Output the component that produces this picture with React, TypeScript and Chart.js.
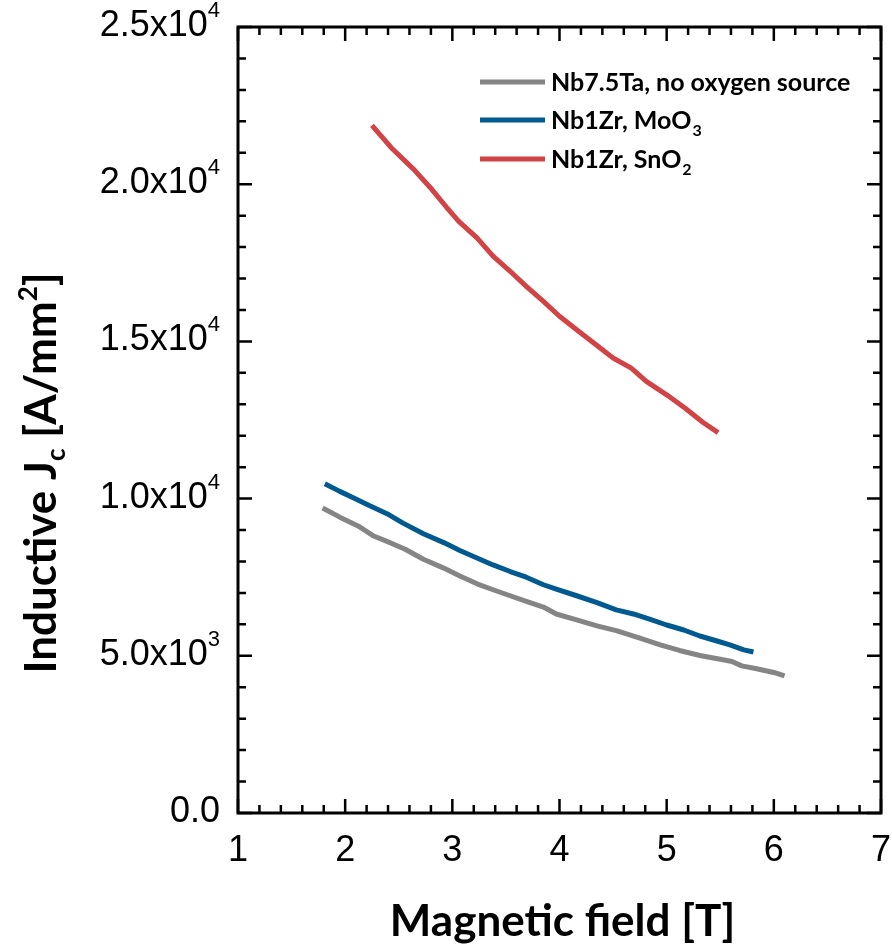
import React, { useEffect, useRef } from "react";
import { Chart, registerables } from "chart.js";

Chart.register(...registerables);

// ---------------- data ----------------
const fieldGray = [1.79, 1.95, 2.12, 2.26, 2.39, 2.56, 2.73, 2.92, 3.07, 3.23, 3.38, 3.54, 3.69, 3.85, 3.97, 4.16, 4.35, 4.53, 4.75, 4.94, 5.12, 5.31, 5.5, 5.61, 5.7, 5.84, 6.0, 6.1];
const jcGray = [9700, 9410, 9130, 8820, 8640, 8390, 8070, 7790, 7540, 7290, 7100, 6910, 6730, 6550, 6330, 6140, 5950, 5800, 5560, 5350, 5170, 5010, 4890, 4820, 4680, 4590, 4470, 4360];

const fieldBlue = [1.81, 1.95, 2.08, 2.23, 2.39, 2.54, 2.73, 2.92, 3.07, 3.23, 3.38, 3.54, 3.69, 3.85, 3.97, 4.16, 4.35, 4.53, 4.69, 4.84, 5.0, 5.16, 5.31, 5.47, 5.59, 5.72, 5.81];
const jcBlue = [10470, 10230, 10020, 9770, 9520, 9220, 8880, 8600, 8350, 8110, 7890, 7680, 7500, 7260, 7120, 6910, 6690, 6460, 6330, 6170, 5980, 5820, 5630, 5470, 5350, 5190, 5120];

const fieldRed = [2.25, 2.43, 2.64, 2.81, 2.95, 3.06, 3.23, 3.38, 3.54, 3.69, 3.85, 4.0, 4.16, 4.32, 4.5, 4.67, 4.81, 5.0, 5.17, 5.34, 5.48];
const jcRed = [21870, 21160, 20470, 19830, 19250, 18820, 18290, 17710, 17230, 16750, 16270, 15800, 15370, 14950, 14470, 14150, 13730, 13300, 12880, 12420, 12100];

const seriesNames = ["Nb7.5Ta, no oxygen source", "Nb1Zr, MoO", "Nb1Zr, SnO"];
const seriesSubs = ["", "3", "2"];
const seriesColors = ["#858585", "#005a8f", "#d24345"];

const xTickValues = [1, 2, 3, 4, 5, 6, 7];
const yTickValues = [0, 5000, 10000, 15000, 20000, 25000];
const yTickMantissa = ["0.0", "5.0x10", "1.0x10", "1.5x10", "2.0x10", "2.5x10"];
const yTickExponent = ["", "3", "4", "4", "4", "4"];

const xTitle = "Magnetic field [T]";
const yTitleParts = ["Inductive J", "c", " [A/mm", "2", "]"];

const X_MIN = 1, X_MAX = 7, X_MINOR = 0.2;
const Y_MIN = 0, Y_MAX = 25000, Y_MINOR = 1000;

const TICK_FONT = "'Liberation Sans', Arial, sans-serif";
const BOLD_FONT = "Lato, 'Open Sans', sans-serif";

const framePlugin = {
  id: "originFrame",
  afterDraw(chart: any) {
    const ctx: CanvasRenderingContext2D = chart.ctx;
    const { left, right, top, bottom } = chart.chartArea;
    const xs = chart.scales.x;
    const ys = chart.scales.y;
    ctx.save();
    ctx.strokeStyle = "#000";
    ctx.fillStyle = "#000";

    // ticks (inward, mirrored)
    ctx.lineWidth = 2.5;
    ctx.lineCap = "butt";
    const nx = Math.round((X_MAX - X_MIN) / X_MINOR);
    for (let i = 0; i <= nx; i++) {
      const v = X_MIN + i * X_MINOR;
      const px = xs.getPixelForValue(v);
      const len = i % 5 === 0 ? 14 : 8;
      ctx.beginPath();
      ctx.moveTo(px, bottom);
      ctx.lineTo(px, bottom - len);
      ctx.moveTo(px, top);
      ctx.lineTo(px, top + len);
      ctx.stroke();
    }
    const ny = Math.round((Y_MAX - Y_MIN) / Y_MINOR);
    for (let i = 0; i <= ny; i++) {
      const v = Y_MIN + i * Y_MINOR;
      const py = ys.getPixelForValue(v);
      const len = i % 5 === 0 ? 14 : 8;
      ctx.beginPath();
      ctx.moveTo(left, py);
      ctx.lineTo(left + len, py);
      ctx.moveTo(right, py);
      ctx.lineTo(right - len, py);
      ctx.stroke();
    }

    // frame
    ctx.lineWidth = 3;
    ctx.strokeRect(left, top, right - left, bottom - top);

    // x tick labels
    ctx.font = `36px ${TICK_FONT}`;
    ctx.textAlign = "center";
    ctx.textBaseline = "alphabetic";
    xTickValues.forEach((v) => {
      ctx.fillText(String(v), xs.getPixelForValue(v), bottom + 48);
    });

    // y tick labels with superscript
    const labelRight = left - 18;
    yTickValues.forEach((v, i) => {
      const py = ys.getPixelForValue(v);
      ctx.textBaseline = "alphabetic";
      ctx.font = `22px ${TICK_FONT}`;
      const exp = yTickExponent[i];
      const ew = exp ? ctx.measureText(exp).width : 0;
      if (exp) {
        ctx.textAlign = "left";
        ctx.fillText(exp, labelRight - ew, py - 10);
      }
      ctx.font = `36px ${TICK_FONT}`;
      ctx.textAlign = "right";
      ctx.fillText(yTickMantissa[i], labelRight - ew, py + 9);
    });

    // x title
    ctx.font = `bold 44px ${BOLD_FONT}`;
    ctx.textAlign = "center";
    ctx.fillText(xTitle, (left + right) / 2 + 3, 936);

    // y title (rotated, with sub/superscript)
    ctx.save();
    ctx.translate(56, (top + bottom) / 2 + 53);
    ctx.rotate(-Math.PI / 2);
    const mainF = `bold 44px ${BOLD_FONT}`;
    const smallF = `bold 26px ${BOLD_FONT}`;
    const fonts = [mainF, smallF, mainF, smallF, mainF];
    const offs = [0, 9, 0, -19, 0];
    let total = 0;
    const widths = yTitleParts.map((t, i) => {
      ctx.font = fonts[i];
      const w = ctx.measureText(t).width;
      total += w;
      return w;
    });
    let cx = -total / 2;
    ctx.textAlign = "left";
    yTitleParts.forEach((t, i) => {
      ctx.font = fonts[i];
      ctx.fillText(t, cx, offs[i]);
      cx += widths[i];
    });
    ctx.restore();

    // legend
    const rowsY = [82, 120, 159];
    seriesNames.forEach((name, i) => {
      const y = rowsY[i];
      ctx.strokeStyle = seriesColors[i];
      ctx.lineWidth = 5;
      ctx.beginPath();
      ctx.moveTo(480, y);
      ctx.lineTo(545, y);
      ctx.stroke();
      ctx.fillStyle = "#000";
      ctx.textAlign = "left";
      ctx.font = `bold 25px ${BOLD_FONT}`;
      ctx.fillText(name, 551, y + 9);
      const w = ctx.measureText(name).width;
      if (seriesSubs[i]) {
        ctx.font = `bold 16px ${BOLD_FONT}`;
        ctx.fillText(seriesSubs[i], 551 + w + 1, y + 16);
      }
    });

    ctx.restore();
  },
};

function toXY(xs: number[], ys: number[]) {
  return xs.map((x, i) => ({ x, y: ys[i] }));
}

export default function App() {
  const ref = useRef<HTMLCanvasElement | null>(null);
  useEffect(() => {
    if (!ref.current) return;
    const mk = (i: number, xs: number[], ys: number[]) => ({
      label: seriesNames[i] + seriesSubs[i],
      data: toXY(xs, ys),
      borderColor: seriesColors[i],
      backgroundColor: seriesColors[i],
      borderWidth: 5,
      pointRadius: 0,
      tension: 0,
      fill: false,
      borderJoinStyle: "round" as const,
    });
    const chart = new Chart(ref.current, {
      type: "line",
      data: {
        datasets: [mk(0, fieldGray, jcGray), mk(1, fieldBlue, jcBlue), mk(2, fieldRed, jcRed)],
      },
      options: {
        animation: false,
        responsive: false,
        devicePixelRatio: 1,
        layout: { padding: { top: 27, right: 11, left: 0, bottom: 0 } },
        plugins: { legend: { display: false }, tooltip: { enabled: false } },
        scales: {
          x: {
            type: "linear",
            min: X_MIN,
            max: X_MAX,
            grid: { display: false },
            border: { display: false },
            ticks: { display: false },
            afterFit: (s: any) => {
              s.height = 135;
            },
          },
          y: {
            type: "linear",
            min: Y_MIN,
            max: Y_MAX,
            grid: { display: false },
            border: { display: false },
            ticks: { display: false },
            afterFit: (s: any) => {
              s.width = 238;
            },
          },
        },
      },
      plugins: [framePlugin],
    });
    return () => chart.destroy();
  }, []);
  return (
    <div style={{ position: "fixed", left: 0, top: 0, width: 892, height: 948, background: "#fff" }}>
      <canvas ref={ref} width={892} height={948} style={{ display: "block" }} />
    </div>
  );
}
